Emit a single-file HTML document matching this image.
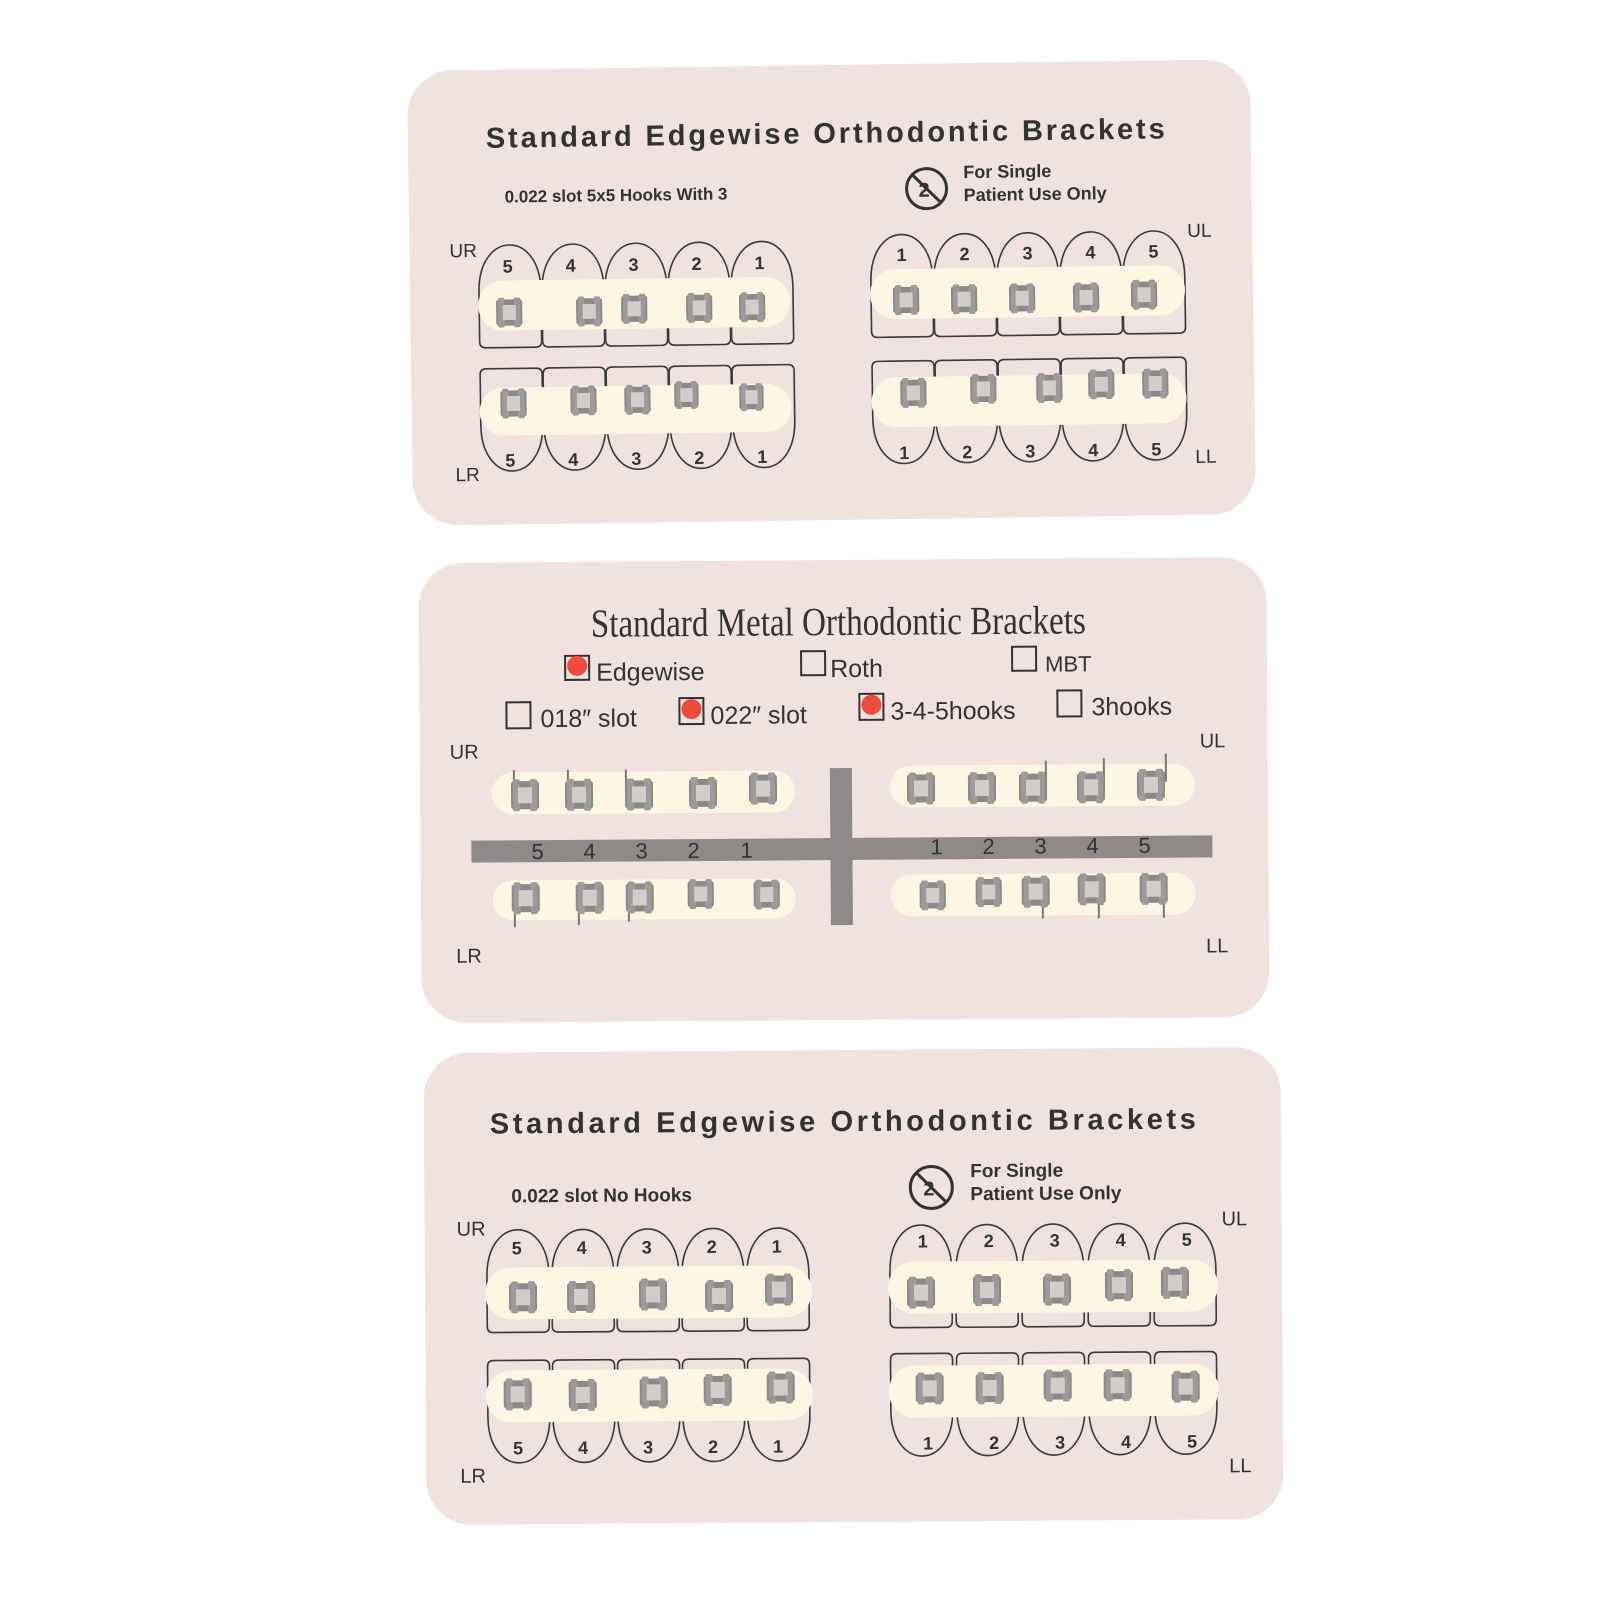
<!DOCTYPE html>
<html><head><meta charset="utf-8"><style>
html,body{margin:0;padding:0;background:#fff}
svg{display:block}
text{font-family:"Liberation Sans",sans-serif;fill:#333}
</style></head><body>
<svg width="1600" height="1600" viewBox="0 0 1600 1600" xmlns="http://www.w3.org/2000/svg">
<defs>
<symbol id="b" viewBox="0 0 30 34">
<rect x="1" y="3" width="28" height="28" rx="3" fill="#8c8988"/>
<rect x="3" y="1" width="7" height="32" rx="2" fill="#9d9a99"/>
<rect x="20" y="1" width="7" height="32" rx="2" fill="#9d9a99"/>
<rect x="8" y="9" width="14" height="16" fill="#d2cdcb"/>
</symbol>
<symbol id="tu" viewBox="0 0 64 108" overflow="visible">
<path d="M1 100 V50 C1 -12 63 -12 63 50 V100 Q63 106 57 106 H7 Q1 106 1 100 Z" fill="none" stroke="#3a3a3a" stroke-width="1.6"/>
</symbol>
<symbol id="tl" viewBox="0 0 64 108" overflow="visible">
<path d="M1 8 V58 C1 120 63 120 63 58 V8 Q63 2 57 2 H7 Q1 2 1 8 Z" fill="none" stroke="#3a3a3a" stroke-width="1.6"/>
</symbol>
</defs>

<!-- CARD 1 -->
<g transform="rotate(-0.8 832 292)">
<rect x="410" y="65" width="843" height="455" rx="45" fill="#efe2df"/>
<text x="488" y="143" font-size="29" font-weight="bold" textLength="680" letter-spacing="1">Standard Edgewise Orthodontic Brackets</text>
<text x="506" y="198" font-size="17" font-weight="bold">0.022 slot 5x5 Hooks With 3</text>
<circle cx="928" cy="190" r="20" fill="none" stroke="#333" stroke-width="3"/>
<line x1="914" y1="176" x2="942" y2="204" stroke="#333" stroke-width="3"/>
<text x="920" y="198" font-size="20" font-weight="bold">2</text>
<text x="965" y="180" font-size="18" font-weight="bold">For Single</text>
<text x="965" y="203" font-size="18" font-weight="bold">Patient Use Only</text>
<text x="450" y="252" font-size="19">UR</text>
<text x="453" y="476" font-size="19">LR</text>
<text x="1188" y="242" font-size="19">UL</text>
<text x="1193" y="468" font-size="19">LL</text>
<use href="#tu" x="478" y="237" width="64" height="108"/><use href="#tu" x="541" y="237" width="64" height="108"/><use href="#tu" x="604" y="237" width="64" height="108"/><use href="#tu" x="667" y="237" width="64" height="108"/><use href="#tu" x="730" y="237" width="64" height="108"/>
<g font-size="18" font-weight="bold"><text x="503" y="268">5</text><text x="566" y="268">4</text><text x="629" y="268">3</text><text x="692" y="268">2</text><text x="755" y="268">1</text></g>
<rect x="478" y="276" width="312" height="50" rx="25" fill="#fdf6e2"/>
<use href="#b" x="495" y="292" width="28" height="32"/><use href="#b" x="575" y="292" width="28" height="32"/><use href="#b" x="620" y="290" width="28" height="32"/><use href="#b" x="685" y="290" width="28" height="32"/><use href="#b" x="738" y="290" width="28" height="32"/>
<use href="#tl" x="478" y="362" width="64" height="108"/><use href="#tl" x="541" y="362" width="64" height="108"/><use href="#tl" x="604" y="362" width="64" height="108"/><use href="#tl" x="667" y="362" width="64" height="108"/><use href="#tl" x="730" y="362" width="64" height="108"/>
<g font-size="18" font-weight="bold"><text x="503" y="462">5</text><text x="566" y="462">4</text><text x="629" y="462">3</text><text x="692" y="462">2</text><text x="755" y="462">1</text></g>
<rect x="478" y="383" width="312" height="48" rx="24" fill="#fdf6e2"/>
<use href="#b" x="498" y="383" width="28" height="32"/><use href="#b" x="568" y="381" width="28" height="32"/><use href="#b" x="622" y="381" width="28" height="32"/><use href="#b" x="672" y="377" width="26" height="32"/><use href="#b" x="737" y="380" width="26" height="32"/>
<use href="#tu" x="870" y="232" width="64" height="108"/><use href="#tu" x="933" y="232" width="64" height="108"/><use href="#tu" x="996" y="232" width="64" height="108"/><use href="#tu" x="1059" y="232" width="64" height="108"/><use href="#tu" x="1122" y="232" width="64" height="108"/>
<g font-size="18" font-weight="bold"><text x="897" y="262">1</text><text x="960" y="262">2</text><text x="1023" y="262">3</text><text x="1086" y="262">4</text><text x="1149" y="262">5</text></g>
<rect x="870" y="270" width="315" height="50" rx="25" fill="#fdf6e2"/>
<use href="#b" x="892" y="285" width="28" height="32"/><use href="#b" x="950" y="285" width="28" height="32"/><use href="#b" x="1008" y="285" width="28" height="32"/><use href="#b" x="1072" y="285" width="28" height="32"/><use href="#b" x="1130" y="283" width="28" height="32"/>
<use href="#tl" x="870" y="360" width="64" height="108"/><use href="#tl" x="933" y="360" width="64" height="108"/><use href="#tl" x="996" y="360" width="64" height="108"/><use href="#tl" x="1059" y="360" width="64" height="108"/><use href="#tl" x="1122" y="360" width="64" height="108"/>
<g font-size="18" font-weight="bold"><text x="897" y="460">1</text><text x="960" y="460">2</text><text x="1023" y="460">3</text><text x="1086" y="460">4</text><text x="1149" y="460">5</text></g>
<rect x="870" y="378" width="315" height="50" rx="25" fill="#fdf6e2"/>
<use href="#b" x="898" y="378" width="28" height="32"/><use href="#b" x="968" y="375" width="28" height="32"/><use href="#b" x="1034" y="375" width="28" height="32"/><use href="#b" x="1086" y="372" width="28" height="32"/><use href="#b" x="1140" y="372" width="28" height="32"/>
</g>

<!-- CARD 2 -->
<g transform="rotate(-0.4 844 790)">
<rect x="420" y="560" width="848" height="460" rx="45" fill="#efe2df"/>
<text x="592" y="635" font-size="40" textLength="495" lengthAdjust="spacingAndGlyphs" style="font-family:'Liberation Serif',serif">Standard Metal Orthodontic Brackets</text>
<g font-size="25">
<rect x="566" y="654" width="24" height="24" fill="none" stroke="#333" stroke-width="2"/><circle cx="578" cy="664" r="10" fill="#f04a3c"/>
<text x="597" y="679">Edgewise</text>
<rect x="802" y="651" width="24" height="24" fill="none" stroke="#333" stroke-width="2"/><text x="831" y="677">Roth</text>
<rect x="1013" y="648" width="24" height="24" fill="none" stroke="#333" stroke-width="2"/><text x="1046" y="673" font-size="22">MBT</text>
<rect x="507" y="700" width="24" height="26" fill="none" stroke="#333" stroke-width="2"/><text x="541" y="725">018″ slot</text>
<rect x="680" y="697" width="24" height="26" fill="none" stroke="#333" stroke-width="2"/><circle cx="692" cy="708" r="10" fill="#f04a3c"/><text x="711" y="723">022″ slot</text>
<rect x="860" y="694" width="24" height="26" fill="none" stroke="#333" stroke-width="2"/><circle cx="872" cy="705" r="10" fill="#f04a3c"/><text x="891" y="720">3-4-5hooks</text>
<rect x="1058" y="692" width="24" height="26" fill="none" stroke="#333" stroke-width="2"/><text x="1092" y="717">3hooks</text>
</g>
<text x="450" y="756" font-size="20">UR</text><text x="455" y="960" font-size="20">LR</text>
<text x="1200" y="750" font-size="20">UL</text><text x="1205" y="955" font-size="20">LL</text>
<rect x="471" y="838" width="741" height="22" fill="#8f8a89"/>
<rect x="830" y="768" width="22" height="157" fill="#8f8a89"/>
<g font-size="22"><text x="531" y="857">5</text><text x="583" y="857">4</text><text x="635" y="857">3</text><text x="687" y="857">2</text><text x="740" y="857">1</text>
<text x="930" y="855">1</text><text x="982" y="855">2</text><text x="1034" y="855">3</text><text x="1086" y="855">4</text><text x="1138" y="855">5</text></g>
<rect x="492" y="770" width="303" height="42" rx="21" fill="#fdf6e2"/>
<rect x="492" y="878" width="303" height="40" rx="20" fill="#fdf6e2"/>
<rect x="890" y="766" width="305" height="42" rx="21" fill="#fdf6e2"/>
<rect x="890" y="875" width="305" height="42" rx="21" fill="#fdf6e2"/>
<g stroke="#777" stroke-width="2"><line x1="514" y1="768" x2="514" y2="790"/><line x1="568" y1="768" x2="568" y2="790"/><line x1="626" y1="768" x2="626" y2="790"/>
<line x1="1046" y1="762" x2="1046" y2="788"/><line x1="1104" y1="760" x2="1104" y2="788"/><line x1="1166" y1="756" x2="1166" y2="784"/>
<line x1="514" y1="900" x2="514" y2="925"/><line x1="578" y1="900" x2="578" y2="923"/><line x1="628" y1="900" x2="628" y2="920"/>
<line x1="1042" y1="898" x2="1042" y2="920"/><line x1="1098" y1="898" x2="1098" y2="920"/><line x1="1163" y1="898" x2="1163" y2="920"/></g>
<use href="#b" x="510" y="776" width="30" height="34"/><use href="#b" x="564" y="776" width="30" height="34"/><use href="#b" x="624" y="776" width="30" height="34"/><use href="#b" x="688" y="775" width="30" height="34"/><use href="#b" x="748" y="771" width="30" height="34"/>
<use href="#b" x="906" y="772" width="30" height="34"/><use href="#b" x="967" y="772" width="30" height="34"/><use href="#b" x="1018" y="772" width="30" height="34"/><use href="#b" x="1076" y="772" width="30" height="34"/><use href="#b" x="1136" y="770" width="30" height="34"/>
<use href="#b" x="510" y="879" width="30" height="34"/><use href="#b" x="574" y="879" width="30" height="34"/><use href="#b" x="624" y="879" width="30" height="34"/><use href="#b" x="686" y="876" width="28" height="34"/><use href="#b" x="752" y="877" width="28" height="34"/>
<use href="#b" x="918" y="879" width="28" height="34"/><use href="#b" x="974" y="876" width="28" height="34"/><use href="#b" x="1020" y="876" width="30" height="34"/><use href="#b" x="1076" y="874" width="30" height="34"/><use href="#b" x="1138" y="874" width="30" height="34"/>
</g>

<!-- CARD 3 -->
<g transform="rotate(-0.4 854 1286)">
<rect x="425" y="1050" width="857" height="472" rx="45" fill="#efe2df"/>
<text x="491" y="1131" font-size="29" font-weight="bold" textLength="707" letter-spacing="1">Standard Edgewise Orthodontic Brackets</text>
<text x="512" y="1200" font-size="19" font-weight="bold">0.022 slot   No  Hooks</text>
<circle cx="932" cy="1188" r="21" fill="none" stroke="#333" stroke-width="3"/>
<line x1="917" y1="1173" x2="947" y2="1203" stroke="#333" stroke-width="3"/>
<text x="924" y="1196" font-size="20" font-weight="bold">2</text>
<text x="971" y="1178" font-size="19" font-weight="bold">For Single</text>
<text x="971" y="1201" font-size="19" font-weight="bold">Patient Use Only</text>
<text x="457" y="1233" font-size="20">UR</text><text x="459" y="1480" font-size="20">LR</text>
<text x="1222" y="1228" font-size="20">UL</text><text x="1228" y="1475" font-size="20">LL</text>
<use href="#tu" x="485" y="1224" width="66" height="108"/><use href="#tu" x="550" y="1224" width="66" height="108"/><use href="#tu" x="615" y="1224" width="66" height="108"/><use href="#tu" x="680" y="1224" width="66" height="108"/><use href="#tu" x="745" y="1224" width="66" height="108"/>
<g font-size="18" font-weight="bold"><text x="512" y="1252">5</text><text x="577" y="1252">4</text><text x="642" y="1252">3</text><text x="707" y="1252">2</text><text x="772" y="1252">1</text></g>
<rect x="485" y="1265" width="327" height="52" rx="26" fill="#fdf6e2"/>
<use href="#b" x="508" y="1278" width="30" height="34"/><use href="#b" x="566" y="1278" width="30" height="34"/><use href="#b" x="638" y="1276" width="30" height="34"/><use href="#b" x="704" y="1278" width="30" height="34"/><use href="#b" x="764" y="1272" width="30" height="34"/>
<use href="#tl" x="485" y="1356" width="66" height="108"/><use href="#tl" x="550" y="1356" width="66" height="108"/><use href="#tl" x="615" y="1356" width="66" height="108"/><use href="#tl" x="680" y="1356" width="66" height="108"/><use href="#tl" x="745" y="1356" width="66" height="108"/>
<g font-size="18" font-weight="bold"><text x="512" y="1452">5</text><text x="577" y="1452">4</text><text x="642" y="1452">3</text><text x="707" y="1452">2</text><text x="772" y="1452">1</text></g>
<rect x="485" y="1368" width="327" height="52" rx="26" fill="#fdf6e2"/>
<use href="#b" x="502" y="1375" width="30" height="34"/><use href="#b" x="567" y="1376" width="30" height="34"/><use href="#b" x="638" y="1374" width="30" height="34"/><use href="#b" x="702" y="1372" width="30" height="34"/><use href="#b" x="765" y="1370" width="30" height="34"/>
<use href="#tu" x="888" y="1222" width="66" height="108"/><use href="#tu" x="954" y="1222" width="66" height="108"/><use href="#tu" x="1020" y="1222" width="66" height="108"/><use href="#tu" x="1086" y="1222" width="66" height="108"/><use href="#tu" x="1152" y="1222" width="66" height="108"/>
<g font-size="18" font-weight="bold"><text x="918" y="1248">1</text><text x="984" y="1248">2</text><text x="1050" y="1248">3</text><text x="1116" y="1248">4</text><text x="1182" y="1248">5</text></g>
<rect x="888" y="1262" width="330" height="52" rx="26" fill="#fdf6e2"/>
<use href="#b" x="906" y="1276" width="30" height="34"/><use href="#b" x="972" y="1274" width="30" height="34"/><use href="#b" x="1042" y="1274" width="30" height="34"/><use href="#b" x="1104" y="1270" width="30" height="34"/><use href="#b" x="1160" y="1268" width="30" height="34"/>
<use href="#tl" x="888" y="1352" width="66" height="108"/><use href="#tl" x="954" y="1352" width="66" height="108"/><use href="#tl" x="1020" y="1352" width="66" height="108"/><use href="#tl" x="1086" y="1352" width="66" height="108"/><use href="#tl" x="1152" y="1352" width="66" height="108"/>
<g font-size="18" font-weight="bold"><text x="922" y="1450">1</text><text x="988" y="1450">2</text><text x="1054" y="1450">3</text><text x="1120" y="1450">4</text><text x="1186" y="1450">5</text></g>
<rect x="888" y="1366" width="330" height="52" rx="26" fill="#fdf6e2"/>
<use href="#b" x="914" y="1372" width="30" height="34"/><use href="#b" x="974" y="1372" width="30" height="34"/><use href="#b" x="1042" y="1370" width="30" height="34"/><use href="#b" x="1102" y="1370" width="30" height="34"/><use href="#b" x="1170" y="1372" width="30" height="34"/>
</g>
</svg>
</body></html>
